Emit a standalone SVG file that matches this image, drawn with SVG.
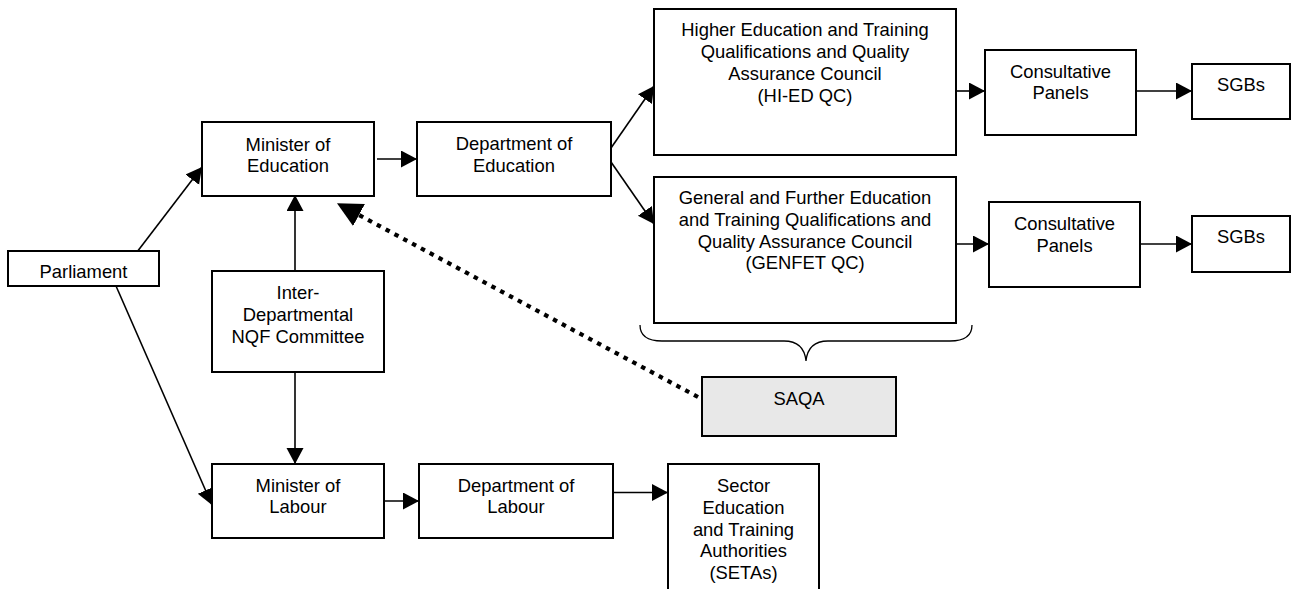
<svg xmlns="http://www.w3.org/2000/svg" width="1291" height="589" viewBox="0 0 1291 589">
<style>
.box{fill:#fff;stroke:#000;stroke-width:2}
.gray{fill:#e8e8e8}
text{font-family:"Liberation Sans",Arial,sans-serif;font-size:18.4px;fill:#000;text-anchor:middle}
.ln{fill:none;stroke:#000;stroke-width:1.6;marker-end:url(#ah)}
.dot{fill:none;stroke:#000;stroke-width:4.2;stroke-dasharray:4.5 5.5;marker-end:url(#big)}
.brace{fill:none;stroke:#000;stroke-width:1.3}
</style>
<defs>
<marker id="ah" markerUnits="userSpaceOnUse" markerWidth="17" markerHeight="18" refX="16" refY="8.5" orient="auto">
<path d="M0,0 L16,8.5 L0,17 z" fill="#000"/>
</marker>
<marker id="big" markerUnits="userSpaceOnUse" markerWidth="26" markerHeight="27" refX="0" refY="13" orient="auto">
<path d="M0,0.5 L25,13 L0,25.5 z" fill="#000"/>
</marker>
</defs>
<rect width="1291" height="589" fill="#fff"/>
<g id="connectors">
<line class="ln" x1="137" y1="252" x2="202" y2="167"/>
<line class="ln" x1="116" y1="286" x2="212" y2="505"/>
<line class="ln" x1="295" y1="271" x2="295" y2="195"/>
<line class="ln" x1="295" y1="372" x2="295" y2="464"/>
<line class="ln" x1="377" y1="159" x2="417" y2="159"/>
<line class="ln" x1="611" y1="148" x2="654" y2="86"/>
<line class="ln" x1="611" y1="162" x2="654" y2="224"/>
<line class="ln" x1="956" y1="91" x2="985" y2="91"/>
<line class="ln" x1="1136" y1="91" x2="1192" y2="91"/>
<line class="ln" x1="956" y1="244" x2="989" y2="244"/>
<line class="ln" x1="1140" y1="244" x2="1192" y2="244"/>
<line class="ln" x1="384" y1="501" x2="419" y2="501"/>
<line class="ln" x1="613" y1="492.5" x2="668" y2="492.5"/>
<line class="dot" x1="698" y1="397" x2="359" y2="215"/>
<path class="brace" d="M640,325 Q640,341 662,341 L784,341 Q804,341 806,361 Q808,341 828,341 L950,341 Q972,341 972,325"/>
</g>
<g id="parliament"><rect class="box" x="8" y="251" width="151" height="35"/><text x="83.5" y="278">Parliament</text></g>
<g id="minister-education"><rect class="box" x="202" y="122" width="172" height="74"/><text x="288" y="150.7">Minister of</text><text x="288" y="172.3">Education</text></g>
<g id="department-education"><rect class="box" x="417" y="122" width="194" height="74"/><text x="514" y="150">Department of</text><text x="514" y="171.7">Education</text></g>
<g id="hied-qc"><rect class="box" x="654" y="9" width="302" height="146"/><text x="805" y="36">Higher Education and Training</text><text x="805" y="58">Qualifications and Quality</text><text x="805" y="80">Assurance Council</text><text x="805" y="101.7">(HI-ED QC)</text></g>
<g id="genfet-qc"><rect class="box" x="654" y="177" width="302" height="146"/><text x="805" y="204">General and Further Education</text><text x="805" y="226">and Training Qualifications and</text><text x="805" y="247.7">Quality Assurance Council</text><text x="805" y="269.3">(GENFET QC)</text></g>
<g id="consultative-panels-1"><rect class="box" x="985" y="50" width="151" height="85"/><text x="1060.5" y="77.7">Consultative</text><text x="1060.5" y="99.3">Panels</text></g>
<g id="sgbs-1"><rect class="box" x="1192" y="64" width="98" height="55"/><text x="1241" y="90.7">SGBs</text></g>
<g id="consultative-panels-2"><rect class="box" x="989" y="202" width="151" height="85"/><text x="1064.5" y="230">Consultative</text><text x="1064.5" y="251.7">Panels</text></g>
<g id="sgbs-2"><rect class="box" x="1192" y="216" width="98" height="56"/><text x="1241" y="242.7">SGBs</text></g>
<g id="inter-departmental"><rect class="box" x="212" y="271" width="172" height="101"/><text x="298" y="299.3">Inter-</text><text x="298" y="321">Departmental</text><text x="298" y="342.7">NQF Committee</text></g>
<g id="minister-labour"><rect class="box" x="212" y="464" width="172" height="74"/><text x="298" y="491.7">Minister of</text><text x="298" y="513.3">Labour</text></g>
<g id="department-labour"><rect class="box" x="419" y="464" width="194" height="74"/><text x="516" y="491.7">Department of</text><text x="516" y="513.3">Labour</text></g>
<g id="setas"><rect class="box" x="668" y="464" width="151" height="135"/><text x="743.5" y="492.3">Sector</text><text x="743.5" y="514">Education</text><text x="743.5" y="535.7">and Training</text><text x="743.5" y="557.3">Authorities</text><text x="743.5" y="579">(SETAs)</text></g>
<g id="saqa"><rect class="box gray" x="702" y="377" width="194" height="59"/><text x="799" y="405">SAQA</text></g>
</svg>
